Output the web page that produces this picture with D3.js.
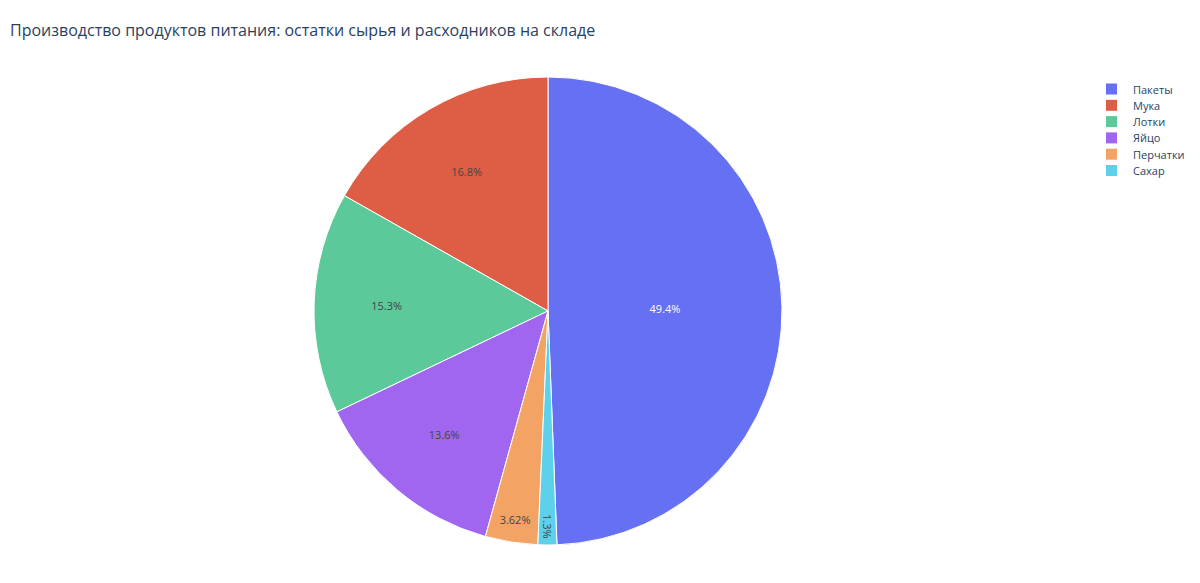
<!DOCTYPE html>
<html><head><meta charset="utf-8">
<script src="https://cdn.jsdelivr.net/npm/d3@7"></script>
<style>body{margin:0;background:#fff;font-family:"Open Sans",sans-serif}</style>
</head><body><svg id="c" width="1200" height="583"></svg>
<script>
const categories = ["Пакеты","Мука","Лотки","Яйцо","Перчатки","Сахар"];
const values = [49.4,16.8,15.3,13.6,3.62,1.3];
const labels = ["49.4%","16.8%","15.3%","13.6%","3.62%","1.3%"];
const colors = ["#6670f2","#de5e45","#5bc99a","#a066f0","#f3a465","#5dd0ec"];
const drawOrder = ["Пакеты","Сахар","Перчатки","Яйцо","Лотки","Мука"];

const svg = d3.select("#c");
svg.append("text").attr("x",10).attr("y",36).attr("font-size",16).attr("fill","#2a3f5f").text("Производство продуктов питания: остатки сырья и расходников на складе");
const data = categories.map((c,i)=>({c,v:values[i],l:labels[i],col:colors[i]}));
const total = d3.sum(values);
const pie = d3.pie().value(d=>d.v).sort((a,b)=>drawOrder.indexOf(a.c)-drawOrder.indexOf(b.c));
const R = 234, cx = 548, cy = 311;
const arc = d3.arc().innerRadius(0).outerRadius(R);
const g = svg.append("g").attr("transform",`translate(${cx},${cy})`);
const arcs = pie(data);
g.selectAll("path").data(arcs).join("path").attr("d",arc).attr("fill",d=>d.data.col).attr("stroke","#fff").attr("stroke-width",1);
arcs.forEach(d=>{
  const f = d.data.v/total;
  const rf = f>0.4?0.5:(f>0.1?0.69:(f>0.02?0.9:0.92));
  const a = (d.startAngle+d.endAngle)/2;
  const x = Math.sin(a)*R*rf, y = -Math.cos(a)*R*rf;
  const t = g.append("text").attr("text-anchor","middle").attr("dominant-baseline","central")
    .attr("font-size",11).attr("fill",f>0.4?"#fff":"#444").text(d.data.l);
  if(f<0.02) t.attr("transform",`translate(${x},${y}) rotate(90)`);
  else t.attr("x",x).attr("y",y);
});
const lg = svg.append("g");
categories.forEach((c,i)=>{
  const y = 89 + i*16.3;
  lg.append("rect").attr("x",1106).attr("y",y-5.5).attr("width",11).attr("height",11).attr("fill",colors[i]);
  lg.append("text").attr("x",1133).attr("y",y).attr("dominant-baseline","central").attr("font-size",11).attr("fill","#2a3f5f").text(c);
});
</script></body></html>
